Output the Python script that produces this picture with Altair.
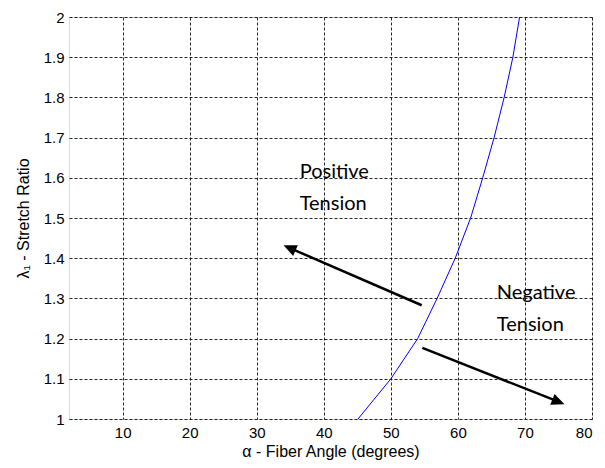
import math
import altair as alt
import pandas as pd

# Curve: fiber angle (deg) vs stretch ratio
alpha = [45.1, 50.0, 54.0, 56.9, 59.6, 61.9, 63.7, 65.4, 66.9, 68.2, 69.2]
stretch = [1.0, 1.1, 1.2, 1.3, 1.4, 1.5, 1.6, 1.7, 1.8, 1.9, 2.0]

x_ticks = [10, 20, 30, 40, 50, 60, 70, 80]
y_ticks = [1.0, 1.1, 1.2, 1.3, 1.4, 1.5, 1.6, 1.7, 1.8, 1.9, 2.0]
x_domain = [2, 80]
y_domain = [1, 2]

label_text = ["Positive", "Tension", "Negative", "Tension"]
label_x = [36.4, 36.4, 65.8, 65.8]
label_y = [1.615, 1.534, 1.313, 1.234]

arrow_x0 = [54.6, 54.7]
arrow_y0 = [1.283, 1.177]
arrow_x1 = [34.0, 75.9]
arrow_y1 = [1.432, 1.037]

W, H = 523, 402
sx = W / (x_domain[1] - x_domain[0])
sy = H / (y_domain[1] - y_domain[0])

head_len = 13.0
rows_shaft, rows_head = [], []
for i in range(len(arrow_x0)):
    dxp = (arrow_x1[i] - arrow_x0[i]) * sx
    dyp = -(arrow_y1[i] - arrow_y0[i]) * sy
    L = math.hypot(dxp, dyp)
    ux, uy = dxp / L, dyp / L
    ang = math.degrees(math.atan2(ux, -uy)) % 360
    ex = arrow_x1[i] - ux * (head_len - 3) / sx
    ey = arrow_y1[i] + uy * (head_len - 3) / sy
    rows_shaft.append({"x": arrow_x0[i], "y": arrow_y0[i], "x2": ex, "y2": ey})
    rows_head.append({"x": arrow_x1[i], "y": arrow_y1[i], "angle": ang})

curve_df = pd.DataFrame({"alpha": alpha, "stretch": stretch})
label_df = pd.DataFrame({"t": label_text, "x": label_x, "y": label_y})
shaft_df = pd.DataFrame(rows_shaft)
head_df = pd.DataFrame(rows_head)

xs = alt.Scale(domain=x_domain, nice=False, zero=False)
ys = alt.Scale(domain=y_domain, nice=False, zero=False)

common = dict(grid=True, ticks=False, domain=False,
              labelFontSize=15, titleFontSize=16, labelFont="Liberation Sans",
              titleFont="Liberation Sans", titleFontWeight="normal",
              labelColor="#000", titleColor="#000",
              gridColor="#000", gridDash=[3, 2], gridOpacity=0.85)

xaxis = alt.Axis(values=x_ticks, title="α - Fiber Angle (degrees)",
                 labelPadding=6, titlePadding=3, **common)
yaxis = alt.Axis(values=y_ticks, title="λ₁ - Stretch Ratio", format="~g",
                 labelPadding=5, titlePadding=12, **common)

curve = alt.Chart(curve_df).mark_line(color="#0000ff", strokeWidth=1, clip=True).encode(
    x=alt.X("alpha:Q", scale=xs, axis=xaxis),
    y=alt.Y("stretch:Q", scale=ys, axis=yaxis),
    order="stretch:Q",
)

shaft = alt.Chart(shaft_df).mark_rule(color="#000", strokeWidth=2.5).encode(
    x=alt.X("x:Q", scale=xs), y=alt.Y("y:Q", scale=ys), x2="x2:Q", y2="y2:Q"
)

head = alt.Chart(head_df).mark_point(
    shape="M0,0 L-0.45,1 L0.45,1 Z", filled=True, color="#000", opacity=1,
    size=4 * head_len * head_len, strokeWidth=0
).encode(
    x=alt.X("x:Q", scale=xs), y=alt.Y("y:Q", scale=ys), angle=alt.Angle("angle:Q", scale=None)
)

labels = alt.Chart(label_df).mark_text(
    align="left", baseline="middle", font="Lato", fontSize=20, color="#000"
).encode(x=alt.X("x:Q", scale=xs), y=alt.Y("y:Q", scale=ys), text="t:N")

chart = alt.layer(curve, shaft, head, labels).properties(
    width=W, height=H,
    autosize=alt.AutoSizeParams(type="none"),
    padding={"left": 61, "top": 9, "right": 5, "bottom": 41},
).configure_view(stroke="#000", strokeWidth=1.5).configure(background="white")

chart.save("out.html", embed_options={"renderer": "svg", "actions": False})
